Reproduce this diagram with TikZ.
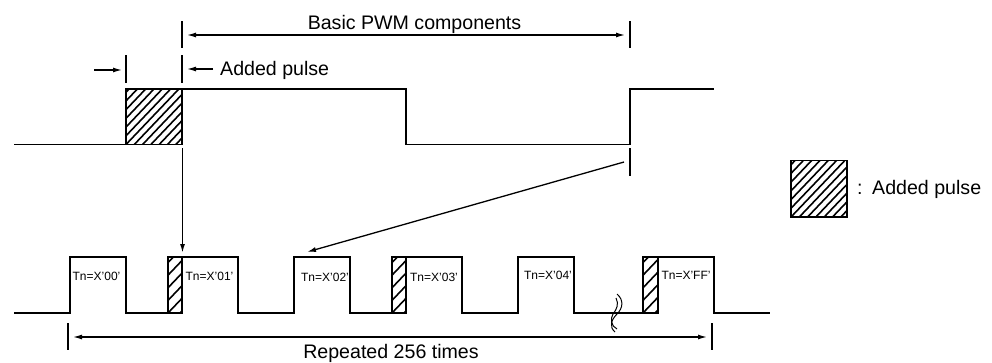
\documentclass[tikz,border=0pt]{standalone}
\usepackage{fontspec}
\setmainfont{Liberation Sans}
\usetikzlibrary{arrows.meta}
\newcommand{\hatchbox}[6]{% x0 y0 x1 y1 spacing name
  \begin{scope}
    \clip (#1,#2) rectangle (#3,#4);
    \foreach \k in {-12,...,24} {
      \draw[hatchline] ({#1+\k*#5},#4) -- ++(80,-84);
    }
  \end{scope}
  \draw[sig] (#1,#2) rectangle (#3,#4);
  \coordinate (#6) at ({(#1+#3)/2},{(#2+#4)/2});
}
\tikzset{
  x=1pt,y=-1pt,
  sig/.style={line width=1.6pt,line cap=butt,line join=miter},
  hatchline/.style={line width=1.6pt},
  tickline/.style={line width=1.3pt},
  dim/.style={line width=1.3pt,-{Latex[length=9pt,width=5pt]}},
  dimboth/.style={line width=1.3pt,{Latex[length=9pt,width=5pt]}-{Latex[length=9pt,width=5pt]}},
  big/.style={font=\fontsize{19.6}{22}\selectfont,inner sep=0pt,anchor=base},
  small/.style={font=\fontsize{12}{14}\selectfont,inner sep=0pt,anchor=base},
}
\begin{document}
\begin{tikzpicture}
\useasboundingbox (0,0) rectangle (992,362);
% hatched areas
\hatchbox{126}{89}{182}{144.5}{8.3}{hA}
\hatchbox{168}{257}{182}{313}{12}{hB}
\hatchbox{392}{257}{406}{313}{12}{hC}
\hatchbox{643}{257}{658}{313}{12}{hD}
\hatchbox{791}{160.5}{847}{217}{8.3}{hE}
% top waveform
\draw[sig] (14,144.5) -- (126,144.5) (182,89) -- (406,89) -- (406,144.5) -- (630,144.5) -- (630,89) -- (714,89);
% bottom waveform
\draw[sig] (14,313) -- (70,313) -- (70,257) -- (126,257) -- (126,313) -- (168,313)
  (182,257) -- (238,257) -- (238,313) -- (294,313) -- (294,257) -- (350,257) -- (350,313) -- (392,313)
  (406,257) -- (462,257) -- (462,313) -- (518,313) -- (518,257) -- (574,257) -- (574,313) -- (643,313)
  (658,257) -- (714,257) -- (714,313) -- (770,313);
% ticks
\coordinate (tTL) at (182,21); \coordinate (tTLb) at (182,48);
\coordinate (tTR) at (630,21); \coordinate (tTRb) at (630,48);
\coordinate (pL) at (126,55); \coordinate (pLb) at (126,83);
\coordinate (pR) at (182,55); \coordinate (pRb) at (182,83);
\coordinate (mR) at (630,148); \coordinate (mRb) at (630,176);
\coordinate (bL) at (68,323); \coordinate (bLb) at (68,350);
\coordinate (bR) at (712,323); \coordinate (bRb) at (712,350);
\foreach \a/\b in {tTL/tTLb,tTR/tTRb,pL/pLb,pR/pRb,mR/mRb,bL/bLb,bR/bRb}
  \draw[tickline] (\a) -- (\b);
% dimension arrows
\coordinate (dTa) at (187,35); \coordinate (dTb) at (625,35);
\draw[dimboth] (dTa) -- (dTb);
\coordinate (dBa) at (73,337); \coordinate (dBb) at (707,337);
\draw[dimboth] (dBa) -- (dBb);
\coordinate (pa1) at (94,70); \coordinate (pa2) at (122,70);
\draw[dim] (pa1) -- (pa2);
\coordinate (pb1) at (213,69); \coordinate (pb2) at (187,69);
\draw[dim] (pb1) -- (pb2);
% pointer arrows
\coordinate (v1) at (182.5,148); \coordinate (v2) at (182.5,253);
\draw[dim,line width=1.5pt] (v1) -- (v2);
\coordinate (o1) at (624,162); \coordinate (o2) at (307,252);
\draw[dim] (o1) -- (o2);
% break mark
\draw[line width=1pt] (617,294) .. controls (624,300) and (623,308) .. (617,314) .. controls (611,320) and (609,327) .. (615,332);
\draw[line width=1pt] (616,298) .. controls (619,304) and (617,309) .. (613,314) .. controls (610,319) and (611,326) .. (617,329);
% labels
\node[big] (lBasic) at (414.5,29) {Basic PWM components};
\node[big,anchor=base west] (lAdd) at (220,75) {Added pulse};
\node[big] (lRep) at (391,358) {Repeated 256 times};
\node[big,anchor=base west] (lColon) at (857,194) {:};
\node[big,anchor=base west] (lLeg) at (872,194) {Added pulse};
\node[small] (t0) at (96.5,280) {Tn=X'00'};
\node[small] (t1) at (209.5,280) {Tn=X'01'};
\node[small] (t2) at (325,281) {Tn=X'02'};
\node[small] (t3) at (434,281) {Tn=X'03'};
\node[small] (t4) at (548,279) {Tn=X'04'};
\node[small] (t5) at (686,279) {Tn=X'FF'};
\end{tikzpicture}
\end{document}
